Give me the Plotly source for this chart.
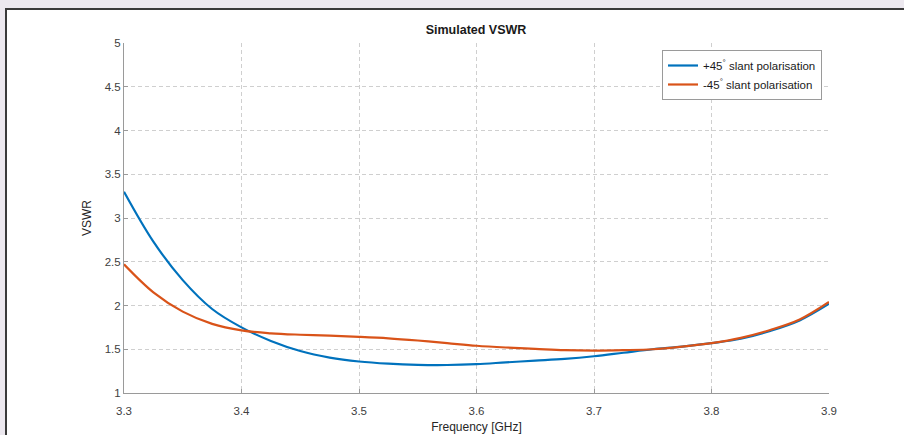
import plotly.graph_objects as go

# ---- data ----
freq_ghz = [3.300, 3.325, 3.350, 3.375, 3.400, 3.425, 3.450, 3.475, 3.500, 3.525,
            3.550, 3.575, 3.600, 3.625, 3.650, 3.675, 3.700, 3.725, 3.750, 3.775,
            3.800, 3.825, 3.850, 3.875, 3.900]
vswr_plus45 = [3.30, 2.73, 2.29, 1.96, 1.75, 1.595, 1.48, 1.405, 1.36, 1.335,
               1.322, 1.32, 1.33, 1.35, 1.37, 1.39, 1.42, 1.46, 1.50, 1.53,
               1.57, 1.62, 1.71, 1.83, 2.02]
vswr_minus45 = [2.47, 2.15, 1.93, 1.79, 1.715, 1.682, 1.666, 1.655, 1.642, 1.625,
                1.60, 1.57, 1.54, 1.52, 1.505, 1.49, 1.485, 1.49, 1.50, 1.53,
                1.57, 1.63, 1.72, 1.84, 2.04]
series_names = ["+45<sup>°</sup> slant polarisation", "-45<sup>°</sup> slant polarisation"]
x_ticks = [3.3, 3.4, 3.5, 3.6, 3.7, 3.8, 3.9]
y_ticks = [1, 1.5, 2, 2.5, 3, 3.5, 4, 4.5, 5]

FONT = "Liberation Sans Narrow, Arial Narrow, Liberation Sans, Arial, sans-serif"
BLUE = "#0072BD"
ORANGE = "#D95319"

fig = go.Figure()
fig.add_trace(go.Scatter(x=freq_ghz, y=vswr_plus45, mode="lines", name=series_names[0],
                         line=dict(color=BLUE, width=2.2, shape="spline", smoothing=1.0)))
fig.add_trace(go.Scatter(x=freq_ghz, y=vswr_minus45, mode="lines", name=series_names[1],
                         line=dict(color=ORANGE, width=2.2, shape="spline", smoothing=1.0)))

# plot area in pixels: left 124, right 829, top 43, bottom 393
L, R, T, B = 124, 829, 43, 393
W, H = 904, 435
pw, ph = R - L, B - T

def px(x):
    return (x - L) / pw

def py(y):
    return (B - y) / ph

# outer lavender frame with a white panel and dark border line
fig.add_shape(type="rect", xref="paper", yref="paper",
              x0=px(6), x1=px(W + 20), y0=py(H + 20), y1=py(9),
              fillcolor="white", line=dict(color="#3a3a3a", width=2), layer="below")

fig.update_layout(
    width=W, height=H,
    margin=dict(l=L, r=W - R, t=T, b=H - B, autoexpand=False),
    paper_bgcolor="#ece8ef",
    plot_bgcolor="white",
    font=dict(family=FONT, color="#262626", size=12),
    title=dict(text="<b>Simulated VSWR</b>", x=476 / W, xref="container", xanchor="center",
               y=1 - 30 / H, yref="container", yanchor="middle",
               font=dict(family=FONT, size=12.5, color="#1a1a1a")),
    showlegend=True,
    legend=dict(x=px(822), y=py(50), xanchor="right", yanchor="top",
                bgcolor="white", bordercolor="#9a9a9a", borderwidth=1,
                font=dict(family=FONT, size=11.5, color="#1a1a1a"),
                itemwidth=30, tracegroupgap=0),
    xaxis=dict(range=[3.3, 3.9], tickvals=x_ticks, ticktext=[f"{v:.1f}" for v in x_ticks],
               showgrid=True, gridcolor="#cfcfcf", griddash="4px,3px", gridwidth=1,
               showline=True, linecolor="#9a9a9a", linewidth=1, mirror=False,
               ticks="inside", ticklen=4, tickcolor="#9a9a9a", ticklabelstandoff=7,
               tickfont=dict(family=FONT, size=11.5, color="#404040"),
               title=dict(text="Frequency [GHz]", standoff=6,
                          font=dict(family=FONT, size=12, color="#262626")),
               zeroline=False, fixedrange=True, automargin=False),
    yaxis=dict(range=[1, 5], tickvals=y_ticks, ticktext=[f"{v:g}" for v in y_ticks],
               showgrid=True, gridcolor="#cfcfcf", griddash="4px,3px", gridwidth=1,
               showline=True, linecolor="#9a9a9a", linewidth=1, mirror=False,
               ticks="inside", ticklen=4, tickcolor="#9a9a9a",
               tickfont=dict(family=FONT, size=11.5, color="#404040"),
               title=dict(text="VSWR", standoff=10,
                          font=dict(family=FONT, size=12, color="#262626")),
               zeroline=False, fixedrange=True, automargin=False),
)

fig.write_html("out.html",
               config={"displayModeBar": False},
               post_script="document.body.style.margin='0px';"
                           "document.body.style.background='#ece8ef';")
